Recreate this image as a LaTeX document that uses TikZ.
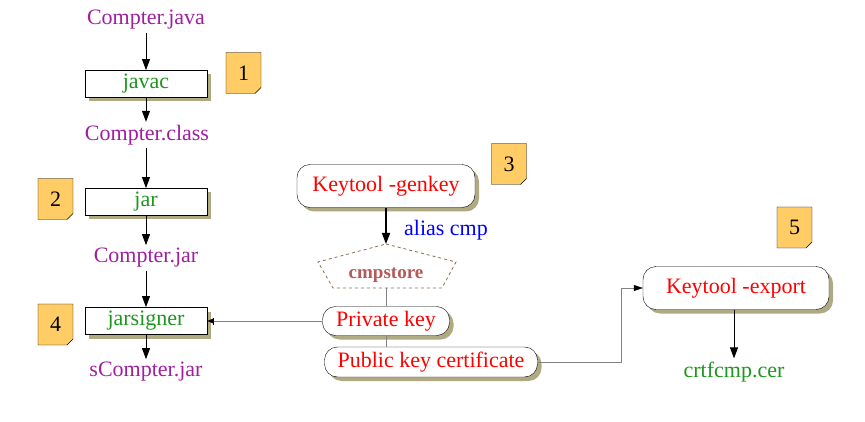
\documentclass[tikz,border=0pt]{standalone}
\usepackage{fontspec}
\setmainfont{Liberation Serif}
\usepackage{tikz}
\usetikzlibrary{arrows.meta,shadows,shapes.misc}

\definecolor{filec}{RGB}{160,30,160}
\definecolor{toolc}{RGB}{30,150,30}
\definecolor{shadowc}{RGB}{175,170,130}
\definecolor{badgec}{RGB}{255,204,102}
\definecolor{storec}{RGB}{180,90,90}
\definecolor{storeline}{RGB}{140,110,80}
\definecolor{linec}{RGB}{130,130,130}

\begin{document}
\begin{tikzpicture}[x=1pt, y=-1pt, font=\fontsize{22}{25}\selectfont,
	file/.style = {text=filec, inner sep=3pt},
	tool/.style = {draw, thick, fill=white, text=toolc, minimum width=122pt, minimum height=27pt, inner sep=0pt,
		drop shadow={shadow xshift=4pt, shadow yshift=-4pt, fill=shadowc, opacity=1}},
	cmd/.style = {draw, fill=white, text=red, rounded corners=13pt, inner sep=0pt,
		drop shadow={shadow xshift=4pt, shadow yshift=-4pt, fill=shadowc, opacity=1}},
	badge/.style = {chamfered rectangle, chamfered rectangle corners=south east, chamfered rectangle sep=3pt,
		draw, fill=badgec, minimum width=35pt, minimum height=41pt, inner sep=0pt},
	arr/.style = {-{Triangle[length=11pt, width=8pt]}, thick},
	link/.style = {draw=linec, thin}]
	\useasboundingbox (0,0) rectangle (865,422);

	% left column
	\node[file] (java) at (146,20) {Compter.java};
	\node[tool] (javac) at (146,84) {javac};
	\node[file] (class) at (147,135) {Compter.class};
	\node[tool] (jar) at (146,202) {jar};
	\node[file] (cjar) at (146,258) {Compter.jar};
	\node[tool] (signer) at (146,321) {jarsigner};
	\node[file] (sjar) at (146,372) {sCompter.jar};

	\draw[arr] (java) -- (javac);
	\draw[arr] (javac) -- (javac |- class.north);
	\draw[arr] (class.south -| jar) -- (jar);
	\draw[arr] (jar) -- (cjar);
	\draw[arr] (cjar) -- (signer);
	\draw[arr] (signer) -- (sjar);

	% keystore
	\node[cmd, minimum width=178pt, minimum height=43pt] (genkey) at (386,186) {Keytool -genkey};
	\draw[draw=storeline, dashed, line width=0.8pt, fill=white] (386,244) -- (456,262) -- (442,288) -- (333,288) -- (318,262) -- cycle;
	\coordinate (apex) at (386,244);
	\node[text=storec, font=\fontsize{19}{22}\selectfont\bfseries, inner sep=0pt, minimum height=26pt] (store) at (386,275) {cmpstore};
	\draw[-{Triangle[length=11pt, width=8pt]}, line width=1.6pt] (genkey) -- (apex)
		node[pos=0.62, right=14pt, text=blue] {alias cmp};
	\node[cmd, minimum width=127pt, minimum height=29pt] (privkey) at (386,321) {Private key};
	\node[cmd, minimum width=213pt, minimum height=30pt] (pubkey) at (431,362) {Public key certificate};
	\draw[link] (store.south) -- (privkey.north);
	\draw[link] (privkey.south) -- (privkey.south |- pubkey.north);
	\draw[link, -{Bar[width=7pt,black] Triangle[length=6pt, width=5pt,black]}] (privkey.west) -- (signer.east);

	% export
	\node[cmd, minimum width=186pt, minimum height=43pt] (export) at (736,288) {Keytool -export};
	\node[text=toolc] (crt) at (734,372) {crtfcmp.cer};
	\draw[link, -{Triangle[length=9pt, width=6pt, black]}] (pubkey.east) -| ([xshift=-22pt]export.west) -- (export.west);
	\draw[arr] (export.south -| crt) -- (crt);

	% steps
	\node[badge] (b1) at (243.5,73) {1};
	\node[badge] (b2) at (55.5,199) {2};
	\node[badge] (b3) at (509,164) {3};
	\node[badge] (b4) at (55.5,324.5) {4};
	\node[badge] (b5) at (794.5,227.5) {5};
\end{tikzpicture}
\end{document}
